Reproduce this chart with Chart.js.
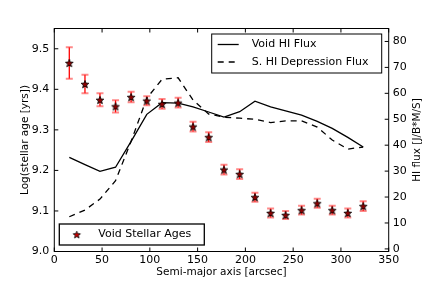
<!DOCTYPE html>
<html>
<head>
<meta charset="utf-8">
<script src="https://cdn.jsdelivr.net/npm/chart.js@4.4.1/dist/chart.umd.min.js"></script>
<style>
  html, body { margin: 0; padding: 0; background: #fff; }
  #wrap { width: 432px; height: 288px; }
</style>
</head>
<body>
<div id="wrap"><canvas id="chart" width="432" height="288"></canvas></div>
<script>
// semi-major axis of each ring (arcsec)
const semiMajor = [15.7, 32.1, 47.8, 64.1, 80.4, 96.8, 112.8, 129.6, 145.2, 161.6,
                   177.6, 194.0, 210.0, 226.4, 242.1, 258.8, 275.2, 290.9, 307.2, 323.3];
// log stellar age and its error
const logAge = [9.465, 9.413, 9.374, 9.358, 9.381, 9.372, 9.364, 9.367, 9.308, 9.282,
                9.202, 9.191, 9.134, 9.095, 9.090, 9.102, 9.119, 9.102, 9.095, 9.112];
const ageErr = [0.039, 0.023, 0.016, 0.015, 0.013, 0.011, 0.012, 0.012, 0.012, 0.012,
                0.012, 0.012, 0.011, 0.011, 0.010, 0.011, 0.011, 0.011, 0.011, 0.012];
// HI flux curves
const voidFlux = [35.3, 32.5, 29.9, 31.5, 41.5, 51.9, 56.4, 56.2, 54.8, 52.8,
                  50.8, 52.9, 57.0, 54.8, 53.2, 51.6, 49.2, 46.5, 43.0, 39.3];
const depFlux = [12.4, 15.0, 19.2, 26.3, 41.5, 58.1, 65.4, 66.0, 57.4, 52.0,
                 50.8, 50.4, 50.0, 48.7, 49.4, 49.4, 47.0, 42.0, 38.5, 39.3];

const xTicks = [0, 50, 100, 150, 200, 250, 300, 350];
const ageTicks = [9.0, 9.1, 9.2, 9.3, 9.4, 9.5];
const fluxTicks = [0, 10, 20, 30, 40, 50, 60, 70, 80];

Chart.defaults.font.family = "'DejaVu Sans', sans-serif";
Chart.defaults.color = '#000';

function makeStar(r, fill) {
    const c = document.createElement('canvas');
    const s = Math.ceil(r * 2 + 3);
    c.width = s;
    c.height = s;
    const g = c.getContext('2d');
    g.beginPath();
    for (let i = 0; i < 10; i++) {
        const a = -Math.PI / 2 + i * Math.PI / 5;
        const rr = i % 2 ? r * 0.42 : r;
        g.lineTo(s / 2 + rr * Math.cos(a), s / 2 + rr * Math.sin(a) + 0.5);
    }
    g.closePath();
    g.fillStyle = fill;
    g.fill();
    g.strokeStyle = '#000';
    g.lineWidth = 0.8;
    g.stroke();
    return c;
}

const starIcon = makeStar(4.1, '#8b0000');
const legendStar = makeStar(3.8, '#cc0000');

const noGrid = { display: false, drawTicks: false, tickLength: 0 };

const frame = {
    id: 'frame',
    beforeDatasetsDraw(chart) {
        // error bars under the stars
        const ctx = chart.ctx;
        const xs = chart.scales.x, ys = chart.scales.y;
        ctx.save();
        semiMajor.forEach((v, i) => {
            const px = xs.getPixelForValue(v);
            const top = ys.getPixelForValue(logAge[i] + ageErr[i]);
            const bot = ys.getPixelForValue(logAge[i] - ageErr[i]);
            ctx.strokeStyle = '#ff0000';
            ctx.lineWidth = 1.3;
            ctx.beginPath();
            ctx.moveTo(px, top);
            ctx.lineTo(px, bot);
            ctx.stroke();
            ctx.strokeStyle = 'rgba(255,40,40,0.55)';
            ctx.lineWidth = 2;
            ctx.beginPath();
            ctx.moveTo(px - 3.5, top); ctx.lineTo(px + 3.5, top);
            ctx.moveTo(px - 3.5, bot); ctx.lineTo(px + 3.5, bot);
            ctx.stroke();
        });
        ctx.restore();
    },
    afterDraw(chart) {
        const ctx = chart.ctx;
        const a = chart.chartArea;
        const xs = chart.scales.x, ys = chart.scales.y, y2 = chart.scales.y2;
        ctx.save();
        // box
        ctx.strokeStyle = '#000';
        ctx.lineWidth = 1;
        ctx.strokeRect(a.left, a.top, a.right - a.left, a.bottom - a.top);
        // inward ticks
        ctx.beginPath();
        xTicks.forEach(v => {
            const p = xs.getPixelForValue(v);
            ctx.moveTo(p, a.bottom); ctx.lineTo(p, a.bottom - 4);
            ctx.moveTo(p, a.top); ctx.lineTo(p, a.top + 4);
        });
        ageTicks.forEach(v => {
            const p = ys.getPixelForValue(v);
            ctx.moveTo(a.left, p); ctx.lineTo(a.left + 4, p);
        });
        fluxTicks.forEach(v => {
            const p = y2.getPixelForValue(v);
            ctx.moveTo(a.right, p); ctx.lineTo(a.right - 4, p);
        });
        ctx.stroke();

        // right axis title, read bottom to top
        ctx.save();
        ctx.translate(417, (a.top + a.bottom) / 2);
        ctx.rotate(-Math.PI / 2);
        ctx.font = "10.5px 'DejaVu Sans'";
        ctx.fillStyle = '#000';
        ctx.textAlign = 'center';
        ctx.textBaseline = 'middle';
        ctx.fillText('HI flux [J/B*M/S]', 0, 0);
        ctx.restore();

        ctx.font = "11px 'DejaVu Sans'";
        ctx.textBaseline = 'middle';
        ctx.textAlign = 'left';
        ctx.fillStyle = '#000';

        // upper right legend (flux lines)
        const ds = chart.data.datasets;
        let lx = a.right - 177, ly = a.top + 5.5;
        ctx.fillStyle = '#fff';
        ctx.fillRect(lx, ly, 170, 39);
        ctx.strokeStyle = '#000';
        ctx.lineWidth = 1;
        ctx.strokeRect(lx, ly, 170, 39);
        [ds[1], ds[2]].forEach((d, k) => {
            const yy = ly + 10.5 + k * 17.5;
            ctx.strokeStyle = '#000';
            ctx.lineWidth = 1.3;
            ctx.setLineDash(d.borderDash || []);
            ctx.beginPath();
            ctx.moveTo(lx + 6, yy); ctx.lineTo(lx + 27, yy);
            ctx.stroke();
            ctx.setLineDash([]);
            ctx.fillStyle = '#000';
            ctx.fillText(d.label, lx + 40, yy);
        });

        // lower left legend (stellar ages)
        lx = a.left + 5; ly = a.bottom - 27.5;
        ctx.fillStyle = '#fff';
        ctx.fillRect(lx, ly, 145, 21);
        ctx.strokeStyle = '#000';
        ctx.strokeRect(lx, ly, 145, 21);
        ctx.drawImage(legendStar, lx + 17.5 - legendStar.width / 2, ly + 10.5 - legendStar.height / 2);
        ctx.fillStyle = '#000';
        ctx.fillText(ds[0].label, lx + 39, ly + 10.5);
        ctx.restore();
    }
};

new Chart(document.getElementById('chart'), {
    type: 'scatter',
    data: {
        datasets: [
            {
                label: 'Void Stellar Ages',
                data: semiMajor.map((x, i) => ({ x: x, y: logAge[i] })),
                yAxisID: 'y',
                pointStyle: starIcon,
                pointRadius: 5,
                showLine: false,
                order: 0
            },
            {
                label: 'Void HI Flux',
                data: semiMajor.map((x, i) => ({ x: x, y: voidFlux[i] })),
                yAxisID: 'y2',
                showLine: true,
                borderColor: '#000',
                borderWidth: 1.3,
                pointRadius: 0,
                order: 1
            },
            {
                label: 'S. HI Depression Flux',
                data: semiMajor.map((x, i) => ({ x: x, y: depFlux[i] })),
                yAxisID: 'y2',
                showLine: true,
                borderColor: '#000',
                borderWidth: 1.3,
                borderDash: [6, 5],
                pointRadius: 0,
                order: 2
            }
        ]
    },
    options: {
        responsive: false,
        animation: false,
        events: [],
        layout: { padding: { top: 28.5, left: 0, right: 0, bottom: 0 } },
        plugins: { legend: { display: false }, tooltip: { enabled: false } },
        scales: {
            x: {
                type: 'linear', position: 'bottom', min: 0, max: 350,
                afterBuildTicks: s => { s.ticks = xTicks.map(v => ({ value: v })); },
                afterFit: s => { s.height = 36.5; },
                grid: noGrid,
                border: { display: false },
                ticks: { padding: 2, maxRotation: 0, font: { size: 11 } },
                title: { display: true, text: 'Semi-major axis [arcsec]', font: { size: 10.5 }, padding: { top: 0, bottom: 9 } }
            },
            y: {
                type: 'linear', position: 'left', min: 9.0, max: 9.55,
                afterBuildTicks: s => { s.ticks = ageTicks.map(v => ({ value: v })); },
                afterFit: s => { s.width = 54.3; },
                grid: noGrid,
                border: { display: false },
                ticks: { padding: 5, font: { size: 11 }, callback: v => v.toFixed(1) },
                title: { display: true, text: 'Log(stellar age [yrs])', font: { size: 10.5 }, padding: { top: 18.7, bottom: 0 } }
            },
            y2: {
                type: 'linear', position: 'right', min: -1, max: 85,
                afterBuildTicks: s => { s.ticks = fluxTicks.map(v => ({ value: v })); },
                afterFit: s => { s.width = 43.3; },
                grid: noGrid,
                border: { display: false },
                ticks: { padding: 4, font: { size: 11 } }
            }
        }
    },
    plugins: [frame]
});
</script>
</body>
</html>
